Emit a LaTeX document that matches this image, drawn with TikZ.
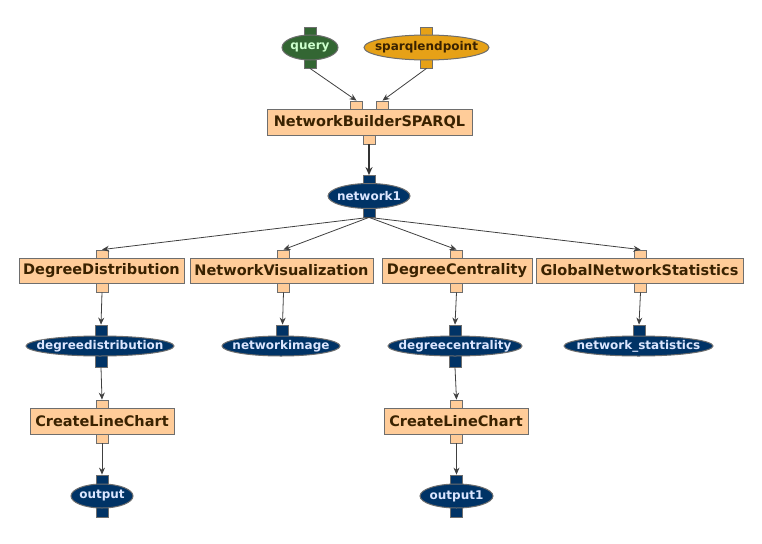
\documentclass[tikz,border=0pt]{standalone}
\usepackage{fontspec}
\setmainfont{DejaVu Sans}
\usetikzlibrary{shapes.geometric,arrows.meta}
\definecolor{boxfill}{HTML}{FFCC99}
\definecolor{boxline}{HTML}{6E6E6E}
\definecolor{boxtext}{HTML}{3A2200}
\definecolor{navy}{HTML}{003366}
\definecolor{navytext}{HTML}{DCE6FF}
\definecolor{qgreen}{HTML}{336633}
\definecolor{qtext}{HTML}{CCFFCC}
\definecolor{sorange}{HTML}{E6A117}
\definecolor{stext}{HTML}{3A2200}
\definecolor{arrowc}{HTML}{404040}
\tikzset{
  box/.style={rectangle, draw=boxline, fill=boxfill, text=boxtext, inner sep=0pt,
    minimum height=26pt, line width=1pt, font=\bfseries\fontsize{14.5}{15}\selectfont},
  port/.style={rectangle, draw=boxline, inner sep=0pt, minimum width=12pt,
    minimum height=8pt, line width=0.8pt},
  bport/.style={port, fill=boxfill},
  nport/.style={port, fill=navy},
  oval/.style={ellipse, draw=boxline, inner sep=0pt, line width=1pt},
  data/.style={oval, fill=navy},
  lbl/.style={inner sep=0pt, font=\bfseries\fontsize{12}{13}\selectfont},
  dlbl/.style={lbl, text=navytext},
  conn/.style={draw=arrowc, line width=0.8pt, -{Stealth[length=7pt,width=6pt]}},
  thickconn/.style={draw=arrowc!80!black, line width=1.5pt, -{Stealth[length=8pt,width=7pt]}}
}
\begin{document}
\begin{tikzpicture}[x=1pt,y=-1pt]
\useasboundingbox (0,0) rectangle (762,543);
% ---- top inputs
\node[port, fill=qgreen, minimum height=9pt] (qt) at (310,31.5) {};
\node[port, fill=qgreen, minimum height=9pt] (qb) at (310,63.5) {};
\node[oval, fill=qgreen, minimum width=56pt, minimum height=25pt,
  label={[lbl, text=qtext]center:query}] (query) at (310,47.5) {};
\node[port, fill=sorange, minimum height=9pt] (st) at (426.5,31.5) {};
\node[port, fill=sorange, minimum height=9pt] (sb) at (426.5,63.5) {};
\node[oval, fill=sorange, minimum width=125pt, minimum height=25pt,
  label={[lbl, text=stext]center:sparqlendpoint}] (sparql) at (426.5,47.5) {};
% ---- builder
\node[box, minimum width=205pt] (nbs) at (369.5,122) {NetworkBuilderSPARQL};
\node[bport] (nbsi1) at (356.5,105) {};
\node[bport] (nbsi2) at (382.5,105) {};
\node[bport, minimum height=9pt] (nbso) at (369,139.5) {};
% ---- network1
\node[nport, minimum height=9pt] (n1t) at (369,180) {};
\node[nport, minimum height=9pt] (n1b) at (369,212.5) {};
\node[data, minimum width=82pt, minimum height=25pt,
  label={[dlbl]center:network1}] (net1) at (369,196) {};
% ---- row 2 boxes
\node[box, minimum width=165pt, minimum height=25pt] (dd) at (101.5,270.5) {DegreeDistribution};
\node[bport] (ddi) at (102,254) {};
\node[bport, minimum height=9pt] (ddo) at (102,287.5) {};
\node[box, minimum width=183pt, minimum height=25pt] (nv) at (281.5,270.5) {NetworkVisualization};
\node[bport] (nvi) at (283.5,254) {};
\node[bport, minimum height=9pt] (nvo) at (283.5,287.5) {};
\node[box, minimum width=150pt, minimum height=25pt] (dc) at (457,270.5) {DegreeCentrality};
\node[bport] (dci) at (456.5,254) {};
\node[bport, minimum height=9pt] (dco) at (456.5,287.5) {};
\node[box, minimum width=207pt, minimum height=25pt] (gns) at (639.5,270.5) {GlobalNetworkStatistics};
\node[bport] (gnsi) at (640.5,254) {};
\node[bport, minimum height=9pt] (gnso) at (640.5,287.5) {};
% ---- row 3 data
\node[nport, minimum height=12pt] (dddt) at (101,331) {};
\node[nport, minimum height=12pt] (dddb) at (101,361) {};
\node[data, minimum width=148pt, minimum height=20pt,
  label={[dlbl]center:degreedistribution}] (ddd) at (100,346) {};
\node[nport, minimum height=12pt] (nit) at (282.5,331) {};
\node[data, minimum width=118pt, minimum height=20pt,
  label={[dlbl]center:networkimage}] (ni) at (281,346) {};
\node[nport, minimum height=12pt] (dcct) at (455,331) {};
\node[nport, minimum height=12pt] (dccb) at (455,361) {};
\node[data, minimum width=134pt, minimum height=20pt,
  label={[dlbl]center:degreecentrality}] (dcc) at (455,346) {};
\node[nport, minimum height=12pt] (nst) at (639,331) {};
\node[data, minimum width=149pt, minimum height=20pt,
  label={[dlbl]center:network\_statistics}] (ns) at (638.5,346) {};
% ---- row 4 boxes
\node[box, minimum width=144pt] (clc1) at (102,421) {CreateLineChart};
\node[bport] (clc1i) at (102,404) {};
\node[bport, minimum height=9pt] (clc1o) at (102,438.5) {};
\node[box, minimum width=144pt] (clc2) at (456,421) {CreateLineChart};
\node[bport] (clc2i) at (456.5,404) {};
\node[bport, minimum height=9pt] (clc2o) at (456.5,438.5) {};
% ---- row 5 outputs
\node[nport, minimum height=10pt] (o1t) at (102,480) {};
\node[nport, minimum height=10pt] (o1b) at (102,512) {};
\node[data, minimum width=62pt, minimum height=24pt,
  label={[dlbl]center:output}] (out) at (102,496) {};
\node[nport, minimum height=10pt] (o2t) at (456.5,480) {};
\node[nport, minimum height=10pt] (o2b) at (456.5,512) {};
\node[data, minimum width=73pt, minimum height=24pt,
  label={[dlbl]center:output1}] (out1) at (456.5,496) {};
% ---- connectors
\draw[conn] (qb.south) -- (nbsi1.north);
\draw[conn] (sb.south) -- (nbsi2.north);
\draw[thickconn] (nbso.south) -- (n1t.north);
\draw[conn] (n1b.south) -- (ddi.north);
\draw[conn] (n1b.south) -- (nvi.north);
\draw[conn] (n1b.south) -- (dci.north);
\draw[conn] (n1b.south) -- (gnsi.north);
\draw[conn] (ddo.south) -- (dddt.north);
\draw[conn] (nvo.south) -- (nit.north);
\draw[conn] (dco.south) -- (dcct.north);
\draw[conn] (gnso.south) -- (nst.north);
\draw[conn] (dddb.south) -- (clc1i.north);
\draw[conn] (dccb.south) -- (clc2i.north);
\draw[conn] (clc1o.south) -- (o1t.north);
\draw[conn] (clc2o.south) -- (o2t.north);
\end{tikzpicture}
\end{document}
